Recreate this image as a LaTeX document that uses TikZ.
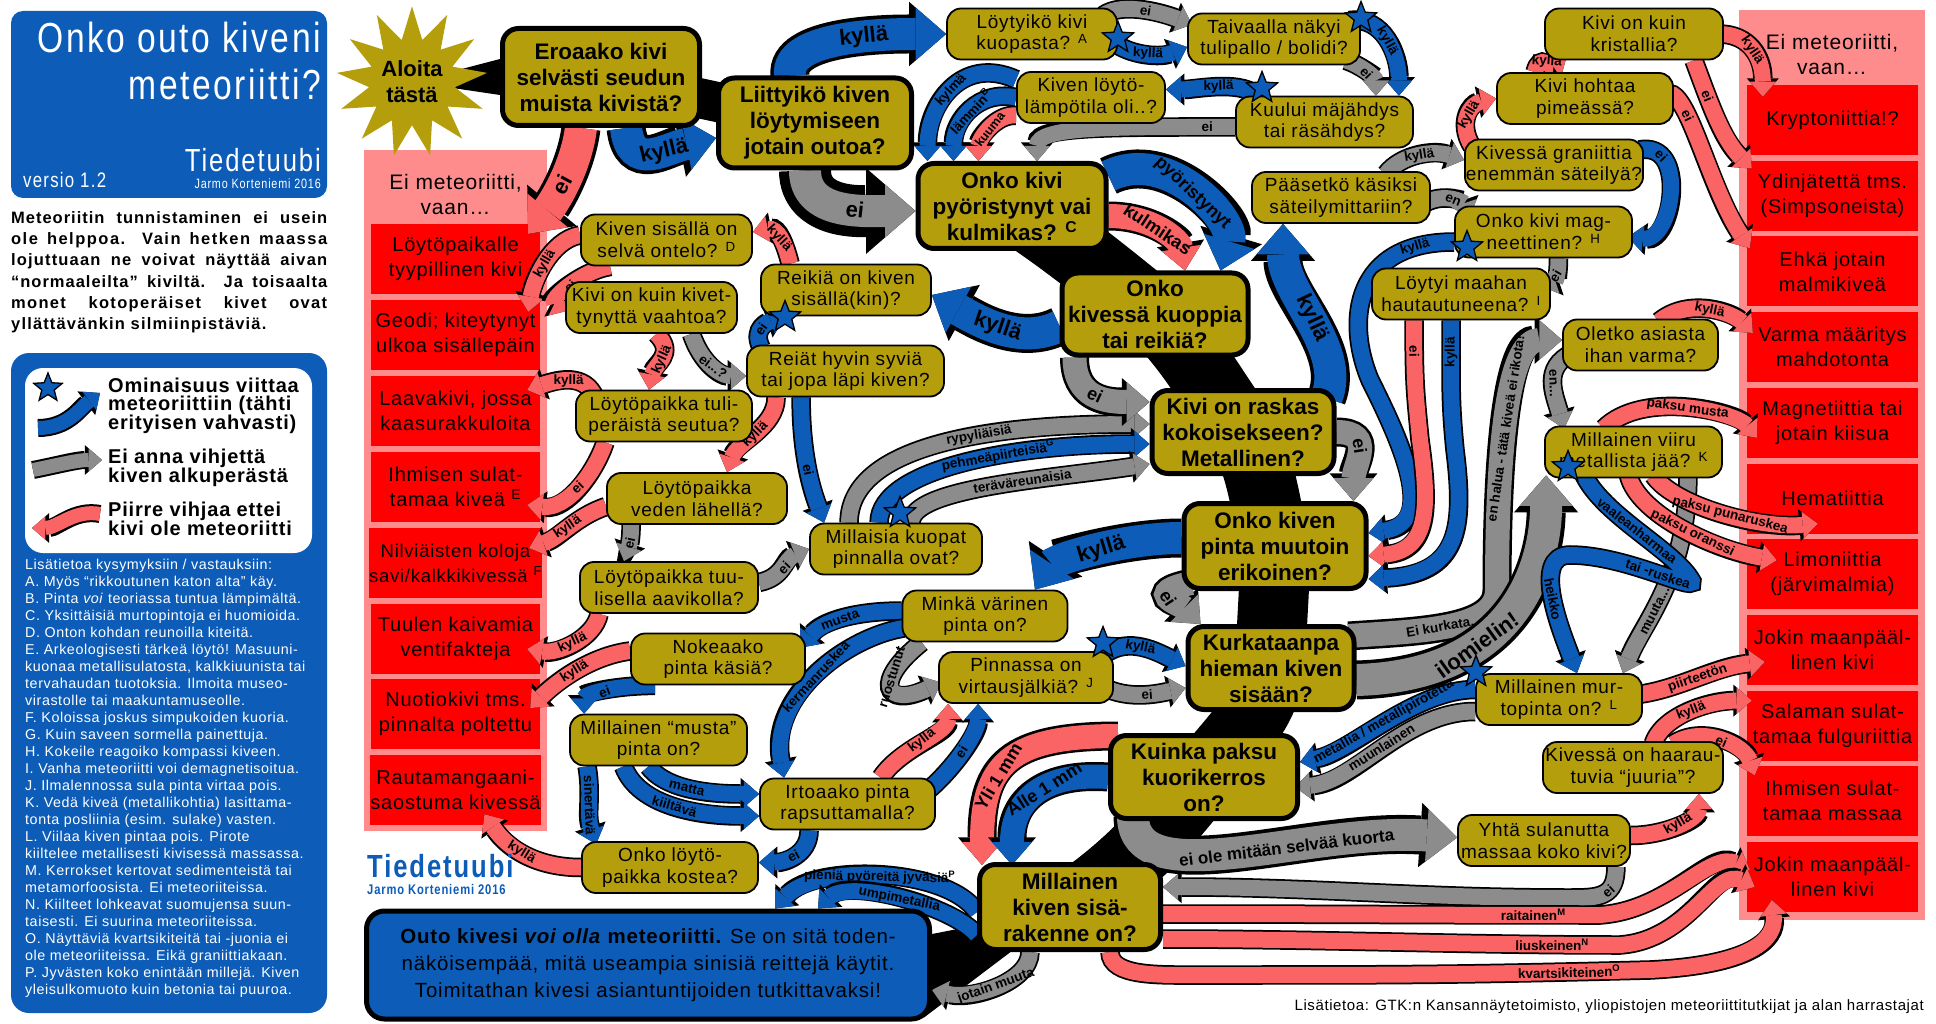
\documentclass[tikz,border=0pt]{standalone}
\usepackage{fontspec}
\setmainfont{Liberation Sans}
\newfontfamily\widefont[LetterSpace=4]{Liberation Sans}
\newfontfamily\titlefont[FakeStretch=0.8,LetterSpace=6]{Liberation Sans}
\usetikzlibrary{arrows.meta,shapes.geometric,calc}
\pgfdeclarelayer{bg}
\pgfdeclarelayer{mid}
\pgfsetlayers{bg,mid,main}
\definecolor{cblue}{RGB}{12,92,184}
\definecolor{cgrey}{RGB}{140,140,140}
\definecolor{cred}{RGB}{250,100,100}
\definecolor{cbox}{RGB}{255,0,0}
\definecolor{cpink}{RGB}{255,140,140}
\definecolor{colive}{RGB}{180,158,12}
\newcommand{\myfs}[2]{\fontsize{#1}{#2}\selectfont}
\newcommand{\jline}[2]{\makebox[316pt][s]{\addfontfeature{LetterSpace=#1}#2}}
\tikzset{
 q/.style={draw=black, line width=1.8pt, fill=colive, rounded corners=14pt, align=center, minimum width=#1, minimum height=51pt, inner sep=1pt, font=\widefont\myfs{19}{21.8}},
 q/.default=172pt,
 qb/.style={draw=black, line width=5pt, fill=colive, rounded corners=16pt, align=center, minimum width=#1, minimum height=83pt, inner sep=1pt, font=\bfseries\myfs{22.5}{26}},
 qb/.default=186pt,
 rbox/.style={fill=cbox, minimum width=#1, minimum height=70pt, align=center, inner sep=0pt, font=\widefont\myfs{20}{25}},
 lab/.style={sloped, inner sep=0pt, font=\bfseries\myfs{13.5}{14}},
 labm/.style={sloped, inner sep=0pt, font=\bfseries\myfs{18}{19}},
 labb/.style={sloped, inner sep=0pt, font=\bfseries\myfs{22}{23}},
 rib/.style n args={3}{line width=#1, draw=#3, preaction={draw=black, line width=#1+#2}, -{Triangle[length=0pt 0.95, width=0pt 1.65, line width=0pt]}},
 smb/.style={rib={16pt}{3.5pt}{cblue}}, smg/.style={rib={16pt}{3.5pt}{cgrey}}, smr/.style={rib={16pt}{3.5pt}{cred}},
 medb/.style={rib={24pt}{5pt}{cblue}}, medg/.style={rib={24pt}{5pt}{cgrey}}, medr/.style={rib={24pt}{5pt}{cred}},
 bigb/.style={rib={32pt}{7pt}{cblue}}, bigg/.style={rib={32pt}{7pt}{cgrey}}, bigr/.style={rib={32pt}{7pt}{cred}},
 st/.style={star, star points=5, star point ratio=2.3, fill=cblue, draw=black, line width=1.3pt, minimum size=33pt, inner sep=0pt},
}
\begin{document}
\begin{tikzpicture}[x=1pt,y=-1pt]
\useasboundingbox (0,0) rectangle (1936,1024);

% ---------------- background panels ----------------
\begin{pgfonlayer}{bg}
\fill[cblue, rounded corners=12pt] (11,11) rectangle (327,198);
\fill[cblue, rounded corners=18pt] (11,353) rectangle (327,1013);
\fill[white, rounded corners=18pt] (25,368) rectangle (312,553);
\fill[cpink] (364,150) rectangle (547,831);
\fill[cpink] (1739,10) rectangle (1925,920);
\node[rbox=169pt] (lr1) at (455.5,259) {Löytöpaikalle\\tyypillinen kivi};
\node[rbox=169pt] (lr2) at (455.5,335) {Geodi; kiteytynyt\\ulkoa sisällepäin};
\node[rbox=169pt] (lr3) at (455.5,411) {Laavakivi, jossa\\kaasurakkuloita};
\node[rbox=169pt] (lr4) at (455.5,487) {Ihmisen sulat-\\tamaa kiveä \textsuperscript{E}};
\node[rbox=169pt, font=\widefont\myfs{18.5}{25}] (lr5) at (455.5,563) {Nilviäisten koloja\\savi/kalkkikivessä \textsuperscript{F}};
\node[rbox=169pt] (lr6) at (455.5,639) {Tuulen kaivamia\\ventifakteja};
\node[rbox=169pt] (lr7) at (455.5,714) {Nuotiokivi tms.\\pinnalta poltettu};
\node[rbox=169pt] (lr8) at (455.5,790) {Rautamangaani-\\saostuma kivessä};
\node[rbox=171pt] (rr1) at (1832.5,120) {Kryptoniittia!?};
\node[rbox=171pt] (rr2) at (1832.5,195.7) {Ydinjätettä tms.\\(Simpsoneista)};
\node[rbox=171pt] (rr3) at (1832.5,271.4) {Ehkä jotain\\malmikiveä};
\node[rbox=171pt] (rr4) at (1832.5,347.1) {Varma määritys\\mahdotonta};
\node[rbox=171pt] (rr5) at (1832.5,422.8) {Magnetiittia tai\\jotain kiisua};
\node[rbox=171pt] (rr6) at (1832.5,498.5) {Hematiittia};
\node[rbox=171pt] (rr7) at (1832.5,574.2) {Limoniittia\\(järvimalmia)};
\node[rbox=171pt] (rr8) at (1832.5,649.9) {Jokin maanpääl-\\linen kivi};
\node[rbox=171pt] (rr9) at (1832.5,725.6) {Salaman sulat-\\tamaa fulguriittia};
\node[rbox=171pt] (rr10) at (1832.5,801.3) {Ihmisen sulat-\\tamaa massaa};
\node[rbox=171pt] (rr11) at (1832.5,877) {Jokin maanpääl-\\linen kivi};
\end{pgfonlayer}

% ---------------- left column texts ----------------
\node[anchor=east, inner sep=0pt, text=white, font=\titlefont\myfs{42}{42}] (t1) at (321,37) {Onko outo kiveni};
\node[anchor=east, inner sep=0pt, text=white, font=\titlefont\myfs{42}{42}] (t2) at (321,84) {meteoriitti?};
\node[anchor=east, inner sep=0pt, text=white, font=\titlefont\myfs{32}{32}] (t3) at (321,160) {Tiedetuubi};
\node[anchor=east, inner sep=0pt, text=white, font=\titlefont\myfs{13.5}{13.5}] (t4) at (321,184) {Jarmo Korteniemi 2016};
\node[anchor=west, inner sep=0pt, text=white, font=\titlefont\myfs{21}{21}] (t5) at (23,180) {versio 1.2};
\node[anchor=north west, inner sep=0pt, align=left, font=\widefont\bfseries\myfs{16.5}{21.3}] (intro) at (11,211) {\jline{6}{Meteoriitin tunnistaminen ei usein}\\\jline{9}{ole helppoa. Vain hetken maassa}\\\jline{7}{lojuttuaan ne voivat näyttää aivan}\\\jline{6}{“normaaleilta” kiviltä. Ja toisaalta}\\\jline{8}{monet kotoperäiset kivet ovat}\\{\addfontfeature{LetterSpace=7}yllättävänkin silmiinpistäviä.}};
\node[anchor=west, inner sep=0pt, align=left, font=\widefont\bfseries\myfs{20}{18}] (lg1) at (108,406) {Ominaisuus viittaa\\meteoriittiin (tähti\\erityisen vahvasti)};
\node[anchor=west, inner sep=0pt, align=left, font=\widefont\bfseries\myfs{20}{18}] (lg2) at (108,468) {Ei anna vihjettä\\kiven alkuperästä};
\node[anchor=west, inner sep=0pt, align=left, font=\widefont\bfseries\myfs{20}{18}] (lg3) at (108,519) {Piirre vihjaa ettei\\kivi ole meteoriitti};
\draw[rib={14pt}{4pt}{cblue}] (38,428) .. controls +(30,0) and +(-20,15) .. (100,393);
\draw[rib={14pt}{4pt}{cgrey}] (33,470) .. controls +(25,-5) and +(-25,0) .. (102,460);
\draw[rib={14pt}{4pt}{cred}] (100,514) .. controls +(-25,-5) and +(25,0) .. (32,528);
\node[st, minimum size=30pt] (sL) at (48,388) {};
\node[anchor=north west, inner sep=0pt, align=left, text=white, font=\widefont\myfs{14.3}{17}] (notes) at (25,559) {Lisätietoa kysymyksiin / vastauksiin:\\
A. Myös “rikkoutunen katon alta” käy.\\
B. Pinta \textit{voi} teoriassa tuntua lämpimältä.\\
C. Yksittäisiä murtopintoja ei huomioida.\\
D. Onton kohdan reunoilla kiteitä.\\
E. Arkeologisesti tärkeä löytö! Masuuni-\\
kuonaa metallisulatosta, kalkkiuunista tai\\
tervahaudan tuotoksia. Ilmoita museo-\\
virastolle tai maakuntamuseolle.\\
F. Koloissa joskus simpukoiden kuoria.\\
G. Kuin saveen sormella painettuja.\\
H. Kokeile reagoiko kompassi kiveen.\\
I. Vanha meteoriitti voi demagnetisoitua.\\
J. Ilmalennossa sula pinta virtaa pois.\\
K. Vedä kiveä (metallikohtia) lasittama-\\
tonta posliinia (esim. sulake) vasten.\\
L. Viilaa kiven pintaa pois. Pirote\\
kiiltelee metallisesti kivisessä massassa.\\
M. Kerrokset kertovat sedimenteistä tai\\
metamorfoosista. Ei meteoriiteissa.\\
N. Kiilteet lohkeavat suomujensa suun-\\
taisesti. Ei suurina meteoriiteissa.\\
O. Näyttäviä kvartsikiteitä tai -juonia ei\\
ole meteoriiteissa. Eikä graniittiakaan.\\
P. Jyvästen koko enintään millejä. Kiven\\
yleisulkomuoto kuin betonia tai puuroa.};

\node[font=\widefont\myfs{21}{25}, align=center] (lhead) at (455.5,194) {Ei meteoriitti,\\vaan…};
\node[font=\widefont\myfs{21}{25}, align=center] (rhead) at (1832,54) {Ei meteoriitti,\\vaan…};
\node[anchor=west, inner sep=0pt, text=cblue, font=\titlefont\bfseries\myfs{32}{32}] (logo1) at (367,866) {Tiedetuubi};
\node[anchor=west, inner sep=0pt, text=cblue, font=\titlefont\bfseries\myfs{14}{14}] (logo2) at (367,889) {Jarmo Korteniemi 2016};
\node[anchor=east, inner sep=0pt, font=\widefont\myfs{15}{15}] (credit) at (1924,1007) {Lisätietoa: GTK:n Kansannäytetoimisto, yliopistojen meteoriittitutkijat ja alan harrastajat};

% ---------------- start star ----------------
\node[star, star points=13, star point ratio=1.75, fill=colive, minimum size=145pt, inner sep=0pt, align=center, font=\bfseries\myfs{22}{26}] (aloita) at (412,82) {Aloita\\tästä};

% ---------------- main questions ----------------
\node[qb=197pt, minimum height=97pt] (eroaako) at (601,77) {Eroaako kivi\\selvästi seudun\\muista kivistä?};
\node[qb=193pt, minimum height=90pt] (liittyiko) at (815,123) {Liittyikö kiven\\löytymiseen\\jotain outoa?};
\node[qb=188pt, minimum height=85pt] (pyoristynyt) at (1012,206) {Onko kivi\\pyöristynyt vai\\kulmikas? \textsuperscript{C}};
\node[qb=186pt, minimum height=82pt] (kuoppia) at (1155,314) {Onko\\kivessä kuoppia\\tai reikiä?};
\node[qb=182pt] (raskas) at (1243,432) {Kivi on raskas\\kokoisekseen?\\Metallinen?};
\node[qb=182pt, minimum height=85pt] (pinta) at (1275,546) {Onko kiven\\pinta muutoin\\erikoinen?};
\node[qb=166pt] (kurkataanpa) at (1271,668) {Kurkataanpa\\hieman kiven\\sisään?};
\node[qb=187pt] (kuinka) at (1204,777) {Kuinka paksu\\kuorikerros\\on?};
\node[qb=181pt, minimum height=85pt] (sisarakenne) at (1070,907) {Millainen\\kiven sisä-\\rakenne on?};

% ---------------- small questions ----------------
\node[q=170pt] (loytyiko) at (1032,34) {Löytyikö kivi\\kuopasta? \textsuperscript{A}};
\node[q=172pt] (taivaalla) at (1274,39) {Taivaalla näkyi\\tulipallo / bolidi?};
\node[q=148pt] (kivenloyto) at (1091,97.5) {Kiven löytö-\\lämpötila oli..?};
\node[q=177pt] (kuului) at (1324.5,122) {Kuului mäjähdys\\tai räsähdys?};
\node[q=178pt] (kristallia) at (1634,34) {Kivi on kuin\\kristallia?};
\node[q=176pt] (hohtaa) at (1585,98.5) {Kivi hohtaa\\pimeässä?};
\node[q=172pt] (graniittia) at (1554,165) {Kivessä graniittia\\enemmän säteilyä?};
\node[q=178pt] (paasetko) at (1341,197.5) {Pääsetkö käsiksi\\säteilymittariin?};
\node[q=177pt] (magneettinen) at (1543.5,232) {Onko kivi mag-\\neettinen? \textsuperscript{H}};
\node[q=178pt] (loytyimaahan) at (1461,294) {Löytyi maahan\\hautautuneena? \textsuperscript{I}};
\node[q=155pt] (oletko) at (1640.5,345) {Oletko asiasta\\ihan varma?};
\node[q=177pt] (viiru) at (1633.5,452) {Millainen viiru\\metallista jää? \textsuperscript{K}};
\node[q=166pt] (murtopinta) at (1559,699.5) {Millainen mur-\\topinta on? \textsuperscript{L}};
\node[q=180pt] (juuria) at (1633,767.5) {Kivessä on haarau-\\tuvia “juuria”?};
\node[q=172pt] (yhta) at (1544,840.5) {Yhtä sulanutta\\massaa koko kivi?};
\node[q=171pt] (ontelo) at (666.5,240) {Kiven sisällä on\\selvä ontelo? \textsuperscript{D}};
\node[q=171pt] (vaahtoa) at (651.5,307.5) {Kivi on kuin kivet-\\tynyttä vaahtoa?};
\node[q=170pt] (reikia) at (846,290) {Reikiä on kiven\\sisällä(kin)?};
\node[q=197pt] (syvia) at (845.5,371) {Reiät hyvin syviä\\tai jopa läpi kiven?};
\node[q=176pt] (tuliperaista) at (664,416) {Löytöpaikka tuli-\\peräistä seutua?};
\node[q=180pt] (veden) at (697,498.5) {Löytöpaikka\\veden lähellä?};
\node[q=178pt] (tuulisella) at (669,587.5) {Löytöpaikka tuu-\\lisella aavikolla?};
\node[q=172pt] (kuopat) at (896,549) {Millaisia kuopat\\pinnalla ovat?};
\node[q=165pt] (minka) at (985,616) {Minkä värinen\\pinta on?};
\node[q=174pt] (nokeaako) at (718,659) {Nokeaako\\pinta käsiä?};
\node[q=174pt] (pinnassa) at (1026,677.5) {Pinnassa on\\virtausjälkiä? \textsuperscript{J}};
\node[q=177pt] (musta) at (658.5,740) {Millainen “musta”\\pinta on?};
\node[q=175pt] (irtoaako) at (847.5,804) {Irtoaako pinta\\rapsuttamalla?};
\node[q=176pt] (kostea) at (670,867.5) {Onko löytö-\\paikka kostea?};

\node[draw=black, line width=5pt, fill=cblue, rounded corners=18pt, minimum width=563pt, minimum height=108pt, align=center, inner sep=2pt, font=\widefont\myfs{20.5}{27}] (outo) at (648,965) {{\bfseries Outo kivesi \textit{voi olla} meteoriitti.} Se on sitä toden-\\näköisempää, mitä useampia sinisiä reittejä käytit.\\Toimitathan kivesi asiantuntijoiden tutkittavaksi!};

% ---------------- black spine ----------------
\begin{pgfonlayer}{bg}
\fill (aloita.center) -- ($(eroaako.west)+(0,-18)$) -- ($(eroaako.west)+(0,18)$) -- cycle;
\draw[line width=40pt] (eroaako.center) -- (liittyiko.center);
\draw[line width=70pt, line cap=round, line join=round] (pyoristynyt.center) .. controls +(60,40) and +(-50,-40) .. (kuoppia.center) .. controls +(40,40) and +(-30,-40) .. (raskas.center) .. controls +(20,40) and +(-10,-40) .. (pinta.center) .. controls +(0,50) and +(0,-50) .. (kurkataanpa.center) .. controls +(-10,50) and +(30,-40) .. (kuinka.center) .. controls +(-40,50) and +(60,-40) .. (sisarakenne.center);
\fill (sisarakenne.center) -- ($(outo.east)+(-5,-30)$) -- ($(outo.south east)+(-8,-4)$) -- cycle;
\end{pgfonlayer}

% ---------------- ribbons ----------------
\begin{pgfonlayer}{mid}
% main flow
\draw[bigb] ($(eroaako.south)+(25,0)$) .. controls +(5,45) and +(-50,10) .. node[labb,pos=.6]{kyllä} ($(liittyiko.west)+(0,15)$);
\draw[bigr] ($(eroaako.south)+(-20,0)$) .. controls +(-5,40) and +(25,-30) .. node[labb,pos=.5]{ei} ($(lr1.north east)+(-12,10)$);
\draw[bigb] ($(liittyiko.north)+(-25,0)$) .. controls +(-5,-40) and +(-60,0) .. node[labb,pos=.6]{kyllä} (loytyiko.west);
\draw[rib={32pt}{20pt}{cgrey}] ($(liittyiko.south)+(-10,0)$) .. controls +(0,45) and +(-50,0) .. node[labb,pos=.6]{ei} ($(pyoristynyt.west)+(0,5)$);
% top row
\draw[smg] ($(loytyiko.north east)+(-15,8)$) .. controls +(20,-15) and +(-25,-10) .. node[lab]{ei} ($(taivaalla.north west)+(5,12)$);
\draw[smb] ($(loytyiko.east)+(-5,8)$) .. controls +(20,15) and +(-25,10) .. node[lab]{kyllä} ($(taivaalla.west)+(0,8)$);
\draw[smb] ($(taivaalla.north east)+(-12,8)$) .. controls +(35,-5) and +(0,-40) .. node[lab]{kyllä} ($(kuului.north east)+(-15,0)$);
\draw[smg] ($(taivaalla.south east)+(-15,-5)$) .. controls +(15,5) and +(0,-18) .. node[lab]{ei} ($(kuului.north east)+(-38,0)$);
\draw[smb] ($(kuului.north west)+(25,3)$) .. controls +(-15,-20) and +(30,0) .. node[lab]{kyllä} ($(kivenloyto.east)+(0,-8)$);
\draw[smg] ($(kuului.west)+(0,5)$) .. controls +(-120,0) and +(0,-35) .. node[lab,pos=.08]{ei} ($(pyoristynyt.north)+(25,0)$);
\draw[smb] ($(kivenloyto.west)+(0,-18)$) .. controls +(-55,-25) and +(0,-55) .. node[lab,pos=.5]{kylmä} ($(pyoristynyt.north west)+(12,0)$);
\draw[smb] ($(kivenloyto.west)+(0,0)$) .. controls +(-38,-8) and +(0,-40) .. node[lab,pos=.5]{lämmin\textsuperscript{B}} ($(pyoristynyt.north west)+(38,0)$);
\draw[smr] ($(kivenloyto.west)+(0,18)$) .. controls +(-20,-2) and +(0,-22) .. node[lab,pos=.5,font=\bfseries\myfs{12.5}{13}]{kuuma} ($(pyoristynyt.north west)+(63,0)$);
\draw[bigb] ($(pyoristynyt.east)+(0,-30)$) .. controls +(60,-30) and +(15,-50) .. node[labm,pos=.5]{pyöristynyt} ($(kuoppia.north east)+(-30,0)$);
\draw[medr] ($(pyoristynyt.east)+(0,10)$) .. controls +(45,0) and +(-5,-30) .. node[labm,pos=.45]{kulmikas} ($(kuoppia.north)+(30,0)$);
\draw[bigb] ($(kuoppia.west)+(0,12)$) .. controls +(-40,20) and +(45,25) .. node[labb,pos=.5]{kyllä} ($(reikia.east)+(0,5)$);
% kuopat -> raskas
\draw[smg] ($(kuopat.north west)+(40,0)$) .. controls +(0,-80) and +(-150,0) .. node[lab,pos=.6]{rypyliäisiä} ($(raskas.west)+(0,-8)$);
\draw[smb] ($(kuopat.north west)+(70,0)$) .. controls +(0,-55) and +(-130,0) .. node[lab,pos=.6]{pehmeäpiirteisiä\textsuperscript{G}} ($(raskas.west)+(0,12)$);
\draw[smg] ($(kuopat.north west)+(102,0)$) .. controls +(0,-35) and +(-100,15) .. node[lab,pos=.6]{teräväreunaisia} ($(raskas.west)+(0,32)$);
\draw[medg] ($(kuoppia.south west)+(15,0)$) .. controls +(0,40) and +(-45,0) .. node[labm,pos=.5]{ei} ($(raskas.north west)+(0,14)$);
\draw[bigb] ($(raskas.north east)+(-10,10)$) .. controls +(20,-50) and +(0,70) .. node[labb,pos=.5]{kyllä} ($(paasetko.south)+(-58,0)$);
\draw[medg] (raskas.east) .. controls +(40,0) and +(0,-35) .. node[labm,pos=.4]{ei} ($(pinta.north east)+(-15,0)$);
\draw[bigb] ($(pinta.west)+(0,-8)$) .. controls +(-60,0) and +(20,-30) .. node[labb,pos=.45]{kyllä} ($(minka.north)+(50,0)$);
\draw[medg] ($(pinta.south west)+(10,-8)$) .. controls +(-50,10) and +(-20,-20) .. node[labm,pos=.45]{ei} ($(kurkataanpa.north west)+(15,0)$);
\draw[smb] ($(pinnassa.north east)+(-15,8)$) .. controls +(25,-25) and +(-30,-15) .. node[lab]{kyllä} ($(kurkataanpa.west)+(0,-2)$);
\draw[smg] ($(pinnassa.east)+(-5,12)$) .. controls +(25,10) and +(-25,5) .. node[lab]{ei} ($(kurkataanpa.west)+(0,20)$);
\draw[medg] ($(kurkataanpa.north east)+(-8,12)$) .. controls +(70,-5) and +(0,40) .. node[lab,pos=.45]{Ei kurkata,} (1497,590) .. controls +(0,-170) and +(-50,0) .. node[lab,pos=.4]{en halua - tätä kiveä ei rikota!} ($(oletko.west)+(0,-5)$);
\draw[bigg] ($(kurkataanpa.east)+(0,12)$) .. controls +(180,-5) and +(0,60) .. node[labb,pos=.3]{ilomielin!} ($(viiru.south west)+(2,-3)$);
\draw[smb] ($(murtopinta.west)+(0,-10)$) .. controls +(-60,0) and +(50,-10) .. node[lab]{metallia / metallipirotetta} ($(kuinka.east)+(0,-15)$);
\draw[smg] ($(murtopinta.west)+(0,12)$) .. controls +(-70,0) and +(60,-5) .. node[lab]{muunlainen} ($(kuinka.east)+(-5,10)$);
\draw[medr] ($(kuinka.north west)+(10,3)$) .. controls +(-110,0) and +(0,-100) .. node[labm,pos=.6]{Yli 1 mm} ($(sisarakenne.north west)+(5,3)$);
\draw[medb] (kuinka.west) .. controls +(-70,-5) and +(0,-60) .. node[labm,pos=.4]{Alle 1 mm} ($(sisarakenne.north west)+(35,3)$);
\draw[bigg] ($(kuinka.south west)+(25,-5)$) .. controls +(0,80) and +(-150,-10) .. node[labm,pos=.62,font=\bfseries\myfs{17}{18}]{ei ole mitään selvää kuorta} ($(yhta.west)+(0,-3)$);
\draw[smg] ($(yhta.south east)+(-15,0)$) .. controls +(0,30) and +(30,0) .. node[lab,pos=.4]{ei} (1570,898) .. controls +(-150,0) and +(150,0) .. ($(sisarakenne.east)+(0,-20)$);
\draw[smr] ($(yhta.east)+(0,-5)$) .. controls +(35,0) and +(0,25) .. node[lab]{kyllä} ($(juuria.south east)+(-25,0)$);
\draw[smr] ($(sisarakenne.east)+(0,7)$) .. controls +(150,0) and +(-150,0) .. node[lab,pos=.85]{raitainen\textsuperscript{M}} (1600,915) .. controls +(70,-5) and +(-40,-20) .. ($(rr11.west)+(3,-7)$);
\draw[smr] ($(sisarakenne.east)+(0,32)$) .. controls +(150,0) and +(-150,0) .. node[lab,pos=.85]{liuskeinen\textsuperscript{N}} (1620,945) .. controls +(70,-5) and +(-40,-20) .. ($(rr11.west)+(8,10)$);
\draw[smr] ($(sisarakenne.south)+(40,0)$) .. controls +(0,25) and +(-40,0) .. (1200,975) .. controls +(200,0) and +(-200,5) .. node[lab,pos=.85]{kvartsikiteinen\textsuperscript{O}} (1650,970) .. controls +(100,-5) and +(5,40) .. ($(rr11.west)+(25,23)$);
\draw[smb] ($(sisarakenne.west)+(0,5)$) .. controls +(-30,-45) and +(40,-45) .. node[lab,pos=.5]{pieniä pyöreitä jyväsiä\textsuperscript{P}} ($(outo.north)+(127,0)$);
\draw[smb] ($(sisarakenne.west)+(0,28)$) .. controls +(-25,-30) and +(30,-30) .. node[lab,pos=.5]{umpimetallia} ($(outo.north)+(170,0)$);
\draw[smg] ($(sisarakenne.south)+(-40,0)$) .. controls +(0,30) and +(40,10) .. node[lab,pos=.5]{jotain muuta} ($(outo.east)+(0,25)$);
% left area
\draw[smr] ($(ontelo.west)+(0,-5)$) .. controls +(-30,5) and +(5,-30) .. node[lab]{kyllä} ($(lr2.north east)+(-12,12)$);
\draw[smr] ($(ontelo.south west)+(30,0)$) .. controls +(-30,5) and +(-20,-10) .. node[lab]{ei} ($(vaahtoa.west)+(3,3)$);
\draw[smr] ($(reikia.north west)+(30,0)$) .. controls +(-5,-20) and +(25,-5) .. node[lab]{kyllä} ($(ontelo.east)+(0,-8)$);
\draw[smr] ($(vaahtoa.south)+(5,0)$) .. controls +(20,20) and +(5,-25) .. node[lab]{kyllä} ($(tuliperaista.north)+(-15,0)$);
\draw[smg] ($(vaahtoa.south)+(40,0)$) .. controls +(10,30) and +(-25,0) .. node[lab]{ei...?} ($(syvia.west)+(0,5)$);
\draw[smr] ($(tuliperaista.north west)+(20,8)$) .. controls +(-10,-25) and +(30,-10) .. node[lab]{kyllä} ($(lr3.east)+(-13,-21)$);
\draw[smr] ($(tuliperaista.south west)+(30,0)$) .. controls +(-10,30) and +(40,5) .. node[lab]{ei} ($(lr4.east)+(-13,18)$);
\draw[smb] ($(syvia.north west)+(15,3)$) .. controls +(-10,-20) and +(-15,5) .. node[lab,pos=.4]{ei} ($(reikia.south west)+(25,0)$);
\draw[smr] ($(syvia.south west)+(30,0)$) .. controls +(0,30) and +(10,-30) .. node[lab]{kyllä} ($(veden.north)+(30,0)$);
\draw[smb] ($(syvia.south west)+(55,0)$) .. controls +(0,50) and +(-15,-40) .. node[lab,pos=.55]{ei} ($(kuopat.north west)+(15,0)$);
\draw[smr] ($(veden.west)+(0,8)$) .. controls +(-30,10) and +(30,-10) .. node[lab]{kyllä} ($(lr5.east)+(-13,-15)$);
\draw[smg] ($(veden.south west)+(25,0)$) .. controls +(0,15) and +(5,-15) .. node[lab]{ei} ($(tuulisella.north)+(-45,0)$);
\draw[smg] ($(tuulisella.east)+(0,-5)$) .. controls +(25,-5) and +(-25,10) .. node[lab]{ei} (kuopat.west);
\draw[smr] ($(tuulisella.south west)+(20,0)$) .. controls +(-5,25) and +(30,5) .. node[lab]{kyllä} ($(lr6.east)+(-13,10)$);
\draw[smb] ($(minka.west)+(0,-5)$) .. controls +(-50,0) and +(20,-25) .. node[lab]{musta} ($(nokeaako.north east)+(-5,15)$);
\draw[smb] ($(minka.west)+(2,12)$) .. controls +(-60,10) and +(-15,-80) .. node[lab]{kermanruskea} ($(irtoaako.north west)+(25,0)$);
\draw[smg] ($(minka.south west)+(20,0)$) .. controls +(-50,40) and +(-55,25) .. node[lab,pos=.35]{ruostunut} ($(pinnassa.west)+(3,5)$);
\draw[smr] ($(nokeaako.west)+(0,-8)$) .. controls +(-40,5) and +(25,-25) .. node[lab]{kyllä} ($(lr7.east)+(-10,-6)$);
\draw[smb] ($(nokeaako.south west)+(25,0)$) .. controls +(-40,0) and +(0,-20) .. node[lab]{ei} ($(musta.north west)+(15,0)$);
\draw[smb] ($(musta.south)+(-10,0)$) .. controls +(15,20) and +(-60,0) .. node[lab]{matta} ($(irtoaako.west)+(0,-10)$);
\draw[smb] ($(musta.south)+(-35,0)$) .. controls +(15,40) and +(-60,0) .. node[lab]{kiiltävä} ($(irtoaako.west)+(0,12)$);
\draw[smb] ($(musta.south west)+(18,0)$) .. controls +(5,30) and +(-10,-30) .. node[lab]{sinertävä} ($(kostea.north west)+(15,3)$);
\draw[smr] ($(irtoaako.north east)+(-55,0)$) .. controls +(20,-30) and +(0,30) .. node[lab]{kyllä} ($(pinnassa.south west)+(10,0)$);
\draw[smb] ($(irtoaako.east)+(-10,-12)$) .. controls +(25,-20) and +(0,30) .. node[lab]{ei} ($(pinnassa.south west)+(40,0)$);
\draw[smb] ($(irtoaako.south west)+(50,0)$) .. controls +(0,25) and +(25,0) .. node[lab]{ei} ($(kostea.east)+(0,-5)$);
\draw[smr] (kostea.west) .. controls +(-50,0) and +(20,30) .. node[lab]{kyllä} ($(lr8.south)+(29,-11)$);
% right area
\draw[smg] ($(paasetko.north east)+(-45,3)$) .. controls +(15,-20) and +(-30,-10) .. node[lab]{kyllä} ($(graniittia.west)+(0,-5)$);
\draw[smg] ($(paasetko.east)+(-5,5)$) .. controls +(20,-10) and +(-5,-15) .. node[lab]{en} ($(magneettinen.north west)+(15,12)$);
\draw[smr] ($(graniittia.north west)+(8,8)$) .. controls +(-15,-25) and +(-25,5) .. node[lab]{kyllä} (hohtaa.west);
\draw[smb] ($(graniittia.east)+(-5,-15)$) .. controls +(50,-10) and +(45,5) .. node[lab,pos=.2]{ei} ($(magneettinen.east)+(-5,5)$);
\draw[smr] ($(hohtaa.north)+(-50,0)$) .. controls +(5,-20) and +(-15,10) .. node[lab]{kyllä} ($(kristallia.south west)+(22,-2)$);
\draw[smr] ($(kristallia.east)+(-5,0)$) .. controls +(30,0) and +(0,-40) .. node[lab]{kyllä} ($(rr1.north west)+(16,12)$);
\draw[smr] ($(kristallia.south east)+(-30,0)$) .. controls +(15,40) and +(-30,-30) .. node[lab,pos=.3]{ei} ($(rr2.north west)+(5,8)$);
\draw[smr] ($(hohtaa.east)+(-5,-5)$) .. controls +(20,0) and +(-40,-60) .. node[lab,pos=.3]{ei} ($(rr3.north west)+(3,12)$);
\draw[smb] ($(magneettinen.west)+(0,10)$) .. controls +(-100,0) and +(-25,-60) .. node[lab,pos=.15]{kyllä} (1370,380) .. controls +(30,60) and +(70,-10) .. ($(pinta.east)+(0,-13)$);
\draw[smg] ($(magneettinen.south)+(15,0)$) .. controls +(0,15) and +(15,-5) .. node[lab]{ei} ($(loytyimaahan.east)+(-10,-8)$);
\draw[smr] ($(loytyimaahan.south west)+(43,0)$) .. controls +(0,60) and +(-5,-50) .. node[lab,pos=.2]{ei} (1420,440) .. controls +(10,70) and +(60,-5) .. ($(pinta.east)+(0,10)$);
\draw[smb] ($(loytyimaahan.south west)+(80,0)$) .. controls +(0,60) and +(-5,-50) .. node[lab,pos=.2]{kyllä} (1455,450) .. controls +(10,80) and +(90,-5) .. ($(pinta.east)+(0,33)$);
\draw[smr] ($(oletko.north east)+(-60,3)$) .. controls +(30,-25) and +(-20,-20) .. node[lab]{kyllä} ($(rr4.north west)+(6,21)$);
\draw[smg] ($(oletko.west)+(10,8)$) .. controls +(-30,15) and +(-10,-35) .. node[lab]{en...} ($(viiru.north west)+(20,3)$);
\draw[smr] ($(viiru.north)+(-30,3)$) .. controls +(40,-40) and +(-20,-25) .. node[lab]{paksu musta} ($(rr5.west)+(10,15)$);
\draw[smg] ($(viiru.south east)+(-35,-3)$) .. controls +(0,100) and +(20,-50) .. node[lab,pos=.6]{muuta...} ($(murtopinta.north east)+(-20,0)$);
\draw[smb] ($(viiru.south west)+(40,-3)$) .. controls +(20,40) and +(-20,-30) .. node[lab]{vaaleanharmaa} (1690,578) .. controls +(15,20) and +(60,0) .. node[lab]{tai -ruskea} (1570,555) .. controls +(-40,0) and +(-15,-40) .. node[lab]{heikko} ($(murtopinta.north)+(18,0)$);
\draw[smr] ($(viiru.south)+(-5,-3)$) .. controls +(10,40) and +(-60,-10) .. node[lab,pos=.55]{paksu oranssi} ($(rr7.west)+(30,-14)$);
\draw[smr] ($(viiru.south)+(20,-3)$) .. controls +(20,30) and +(-60,5) .. node[lab,pos=.55]{paksu punaruskea} ($(rr6.south west)+(71,-10)$);
\draw[smr] ($(murtopinta.east)+(-5,-5)$) .. controls +(40,-5) and +(-50,5) .. node[lab]{piirteetön} ($(rr8.west)+(18,12)$);
\draw[smr] ($(juuria.north)+(20,3)$) .. controls +(10,-30) and +(-40,0) .. node[lab]{kyllä} ($(rr9.west)+(5,-25)$);
\draw[smr] ($(juuria.north)+(40,3)$) .. controls +(30,-20) and +(-10,-30) .. node[lab]{ei} ($(rr10.west)+(8,-26)$);
\end{pgfonlayer}

% ---------------- stars ----------------
\node[st] (s1) at (1118,38) {};
\node[st] (s2) at (1361,18) {};
\node[st] (s3) at (1262,88) {};
\node[st] (s4) at (900,513) {};
\node[st] (s5) at (1103,643) {};
\node[st] (s6) at (1476,672) {};
\node[st] (s7) at (785,317) {};
\node[st] (s8) at (1467,247) {};
\node[st] (s9) at (1568,467) {};
\end{tikzpicture}
\end{document}
